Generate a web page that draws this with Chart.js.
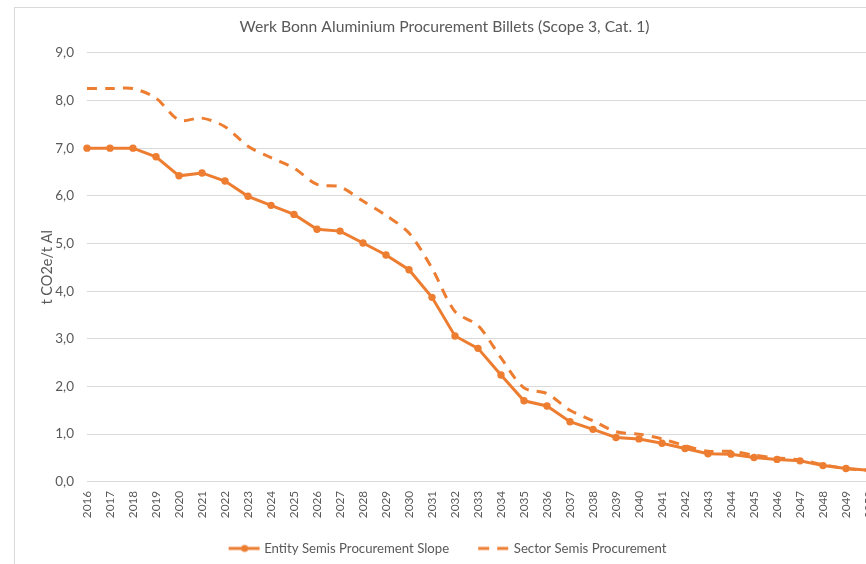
<!DOCTYPE html>
<html>
<head>
<meta charset="utf-8">
<script src="https://cdn.jsdelivr.net/npm/chart.js@4.4.1/dist/chart.umd.min.js"></script>
<style>
  html, body { margin: 0; padding: 0; background: #fff; overflow: hidden; width: 866px; height: 564px; }
  #frame { position: absolute; left: 14px; top: 7px; width: 862px; height: 568px; border: 1px solid #d9d9d9; background: #fff; }
  canvas { display: block; }
</style>
</head>
<body>
<div id="frame"><canvas id="chartBonn" width="862" height="568"></canvas></div>
<script>
// --- data ---
const years = ['2016', '2017', '2018', '2019', '2020', '2021', '2022', '2023', '2024', '2025',
               '2026', '2027', '2028', '2029', '2030', '2031', '2032', '2033', '2034', '2035',
               '2036', '2037', '2038', '2039', '2040', '2041', '2042', '2043', '2044', '2045',
               '2046', '2047', '2048', '2049', '2050'];

const entitySlope = [7.00, 7.00, 7.00, 6.82, 6.42, 6.48, 6.31, 5.99, 5.80, 5.61,
                     5.30, 5.26, 5.01, 4.76, 4.45, 3.87, 3.06, 2.80, 2.24, 1.70,
                     1.59, 1.26, 1.10, 0.93, 0.90, 0.81, 0.70, 0.59, 0.58, 0.51,
                     0.47, 0.44, 0.34, 0.28, 0.24];

const sectorSemis = [8.25, 8.25, 8.25, 8.05, 7.59, 7.63, 7.45, 7.04, 6.80, 6.58,
                     6.24, 6.19, 5.89, 5.59, 5.22, 4.48, 3.57, 3.28, 2.60, 1.97,
                     1.85, 1.50, 1.28, 1.05, 1.00, 0.90, 0.76, 0.64, 0.64, 0.56,
                     0.50, 0.46, 0.36, 0.28, 0.24];

const seriesNames = ['Entity Semis Procurement Slope', 'Sector Semis Procurement'];

const ORANGE = '#ED7D31';
const GREY_TEXT = '#595959';
const FONT = 'Lato, "Liberation Sans", sans-serif';
const X_TICK_SIZE = 11.8;

// legend icons: blank strip on the left gives the gap between the two entries
const ICON_GAP = 9;
function legendIcon(dashed) {
    const c = document.createElement('canvas');
    c.width = 32 + ICON_GAP; c.height = 10;
    const g = c.getContext('2d');
    g.translate(ICON_GAP, 0);
    g.strokeStyle = ORANGE; g.lineWidth = 3;
    if (dashed) g.setLineDash([11, 8]);
    g.beginPath(); g.moveTo(0, 5); g.lineTo(31, 5); g.stroke();
    if (!dashed) {
        g.fillStyle = ORANGE;
        g.beginPath(); g.arc(16, 5, 3.5, 0, Math.PI * 2); g.fill();
    }
    return c;
}
const icons = [legendIcon(false), legendIcon(true)];

const ctx = document.getElementById('chartBonn').getContext('2d');
new Chart(ctx, {
    type: 'line',
    data: {
        labels: years,
        datasets: [
            {
                label: seriesNames[0], data: entitySlope, order: 1,
                borderColor: ORANGE, backgroundColor: ORANGE, borderWidth: 3, tension: 0,
                pointRadius: 3.7, pointBorderWidth: 0, pointBackgroundColor: ORANGE
            },
            {
                label: seriesNames[1], data: sectorSemis, order: 0,
                borderColor: ORANGE, borderWidth: 3, borderDash: [10, 8], tension: 0.3,
                pointRadius: 0
            }
        ]
    },
    options: {
        responsive: false, animation: false,
        layout: { padding: { left: 5, right: 8, top: 0, bottom: 11 } },
        plugins: {
            title: {
                display: true, text: 'Werk Bonn Aluminium Procurement Billets (Scope 3, Cat. 1)',
                color: GREY_TEXT, font: { family: FONT, size: 15.7, weight: 'normal' },
                padding: { top: 10, bottom: 16 }
            },
            legend: {
                position: 'bottom',
                labels: {
                    usePointStyle: true, pointStyleWidth: 26 + ICON_GAP, padding: 23,
                    color: GREY_TEXT, font: { family: FONT, size: 13.2 },
                    generateLabels: (chart) => chart.data.datasets.map((ds, i) => ({
                        text: ds.label, datasetIndex: i, pointStyle: icons[i],
                        fontColor: GREY_TEXT, lineWidth: 0, strokeStyle: 'transparent',
                        fillStyle: 'transparent', hidden: false
                    }))
                }
            },
            tooltip: { enabled: false }
        },
        scales: {
            x: {
                offset: false,
                grid: { display: false, drawTicks: false },
                border: { display: false },
                // mirror keeps the vertical year labels from being clipped to the axis box;
                // labelOffset undoes the sideways shift that mirror adds
                ticks: {
                    autoSkip: false, minRotation: 90, maxRotation: 90, mirror: true, padding: -9,
                    labelOffset: X_TICK_SIZE * 1.2,
                    color: GREY_TEXT, font: { family: FONT, size: X_TICK_SIZE }
                },
                afterFit: (scale) => { scale.height = 37; scale.paddingLeft = 0; scale.paddingRight = 0; }
            },
            y: {
                min: 0, max: 9,
                grid: { color: '#d9d9d9', lineWidth: 1, drawTicks: false },
                border: { display: false },
                ticks: {
                    stepSize: 1, padding: 13, color: GREY_TEXT, font: { family: FONT, size: 13.5 },
                    callback: (v) => v.toFixed(1).replace('.', ',')
                },
                title: {
                    display: true, text: 't CO2e/t Al', color: GREY_TEXT,
                    font: { family: FONT, size: 14.5 }, padding: { top: 19, bottom: 0 }
                },
                afterFit: (scale) => { scale.width = 67; }
            }
        }
    }
});
</script>
</body>
</html>
